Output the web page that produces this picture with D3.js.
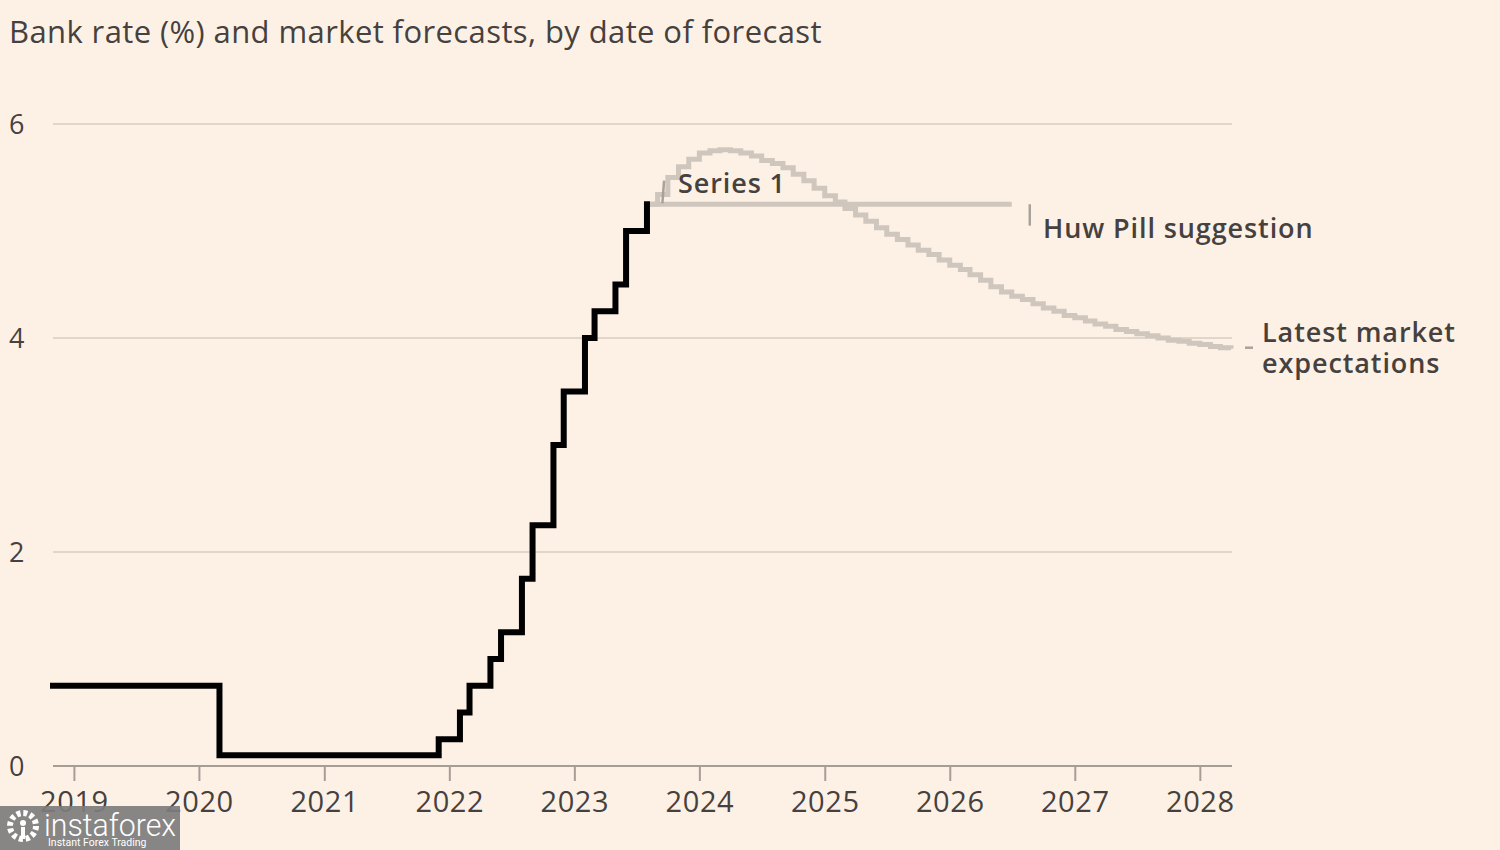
<!DOCTYPE html>
<html>
<head>
<meta charset="utf-8">
<script src="https://cdn.jsdelivr.net/npm/d3@7"></script>
<style>
  html, body { margin: 0; padding: 0; background: #fdf1e6; }
  svg { display: block; }
</style>
</head>
<body>
<svg id="chart" width="1500" height="850"></svg>
<script>
// ---------- DATA ----------
const titleText = "Bank rate (%) and market forecasts, by date of forecast";
const yTicks = [0, 2, 4, 6];
const xTickYears = [2019, 2020, 2021, 2022, 2023, 2024, 2025, 2026, 2027, 2028];

// Bank rate (monthly, change points; step after)
const bankRateDates = ["2018-11-01", "2020-03-01", "2021-12-01", "2022-02-01", "2022-03-01",
  "2022-05-01", "2022-06-01", "2022-08-01", "2022-09-01", "2022-11-01", "2022-12-01",
  "2023-02-01", "2023-03-01", "2023-05-01", "2023-06-01", "2023-08-01"];
const bankRateValues = [0.75, 0.1, 0.25, 0.5, 0.75, 1.0, 1.25, 1.75, 2.25, 3.0, 3.5,
  4.0, 4.25, 4.5, 5.0, 5.25];

// Latest market expectations, monthly from Aug 2023
const marketStart = "2023-08-01";
const marketValues = [5.25, 5.34, 5.50, 5.60, 5.67, 5.73, 5.75, 5.76, 5.75, 5.73,
  5.70, 5.66, 5.63, 5.59, 5.53, 5.47, 5.40, 5.33, 5.27, 5.21,
  5.15, 5.09, 5.03, 4.97, 4.92, 4.87, 4.82, 4.78, 4.73, 4.68,
  4.64, 4.59, 4.54, 4.48, 4.43, 4.39, 4.36, 4.32, 4.28, 4.25,
  4.21, 4.19, 4.16, 4.13, 4.11, 4.08, 4.06, 4.04, 4.02, 4.00,
  3.98, 3.97, 3.95, 3.94, 3.92, 3.91, 3.90];

// Huw Pill suggestion
const pillDates = ["2023-08-01", "2026-07-01"];
const pillValues = [5.25, 5.25];

// Labels
const seriesLabels = ["Series 1", "Huw Pill suggestion", "Latest market", "expectations"];

// ---------- CHART ----------
const svg = d3.select("#chart");
const W = 1500, H = 850;
const bg = "#fdf1e6";
const textColor = "#46413e";
const greyLine = "#cfc6bd";
const leaderColor = "#a9a29b";
const font = "'Open Sans', Lato, sans-serif";

svg.append("rect").attr("width", W).attr("height", H).attr("fill", bg);

const parse = d3.utcParse("%Y-%m-%d");
const x = d3.scaleUtc()
  .domain([parse("2018-11-01"), parse("2028-04-01")])
  .range([53, 1231]);
const y = d3.scaleLinear().domain([0, 6]).range([766, 124]);

// Title
svg.append("text")
  .attr("x", 9).attr("y", 43)
  .attr("font-family", font).attr("font-size", 31)
  .attr("letter-spacing", 0.4)
  .attr("fill", textColor)
  .text(titleText);

// Gridlines
svg.append("g")
  .selectAll("line")
  .data(yTicks.filter(d => d !== 0))
  .join("line")
  .attr("x1", 53).attr("x2", 1232)
  .attr("y1", d => y(d)).attr("y2", d => y(d))
  .attr("stroke", "#d6ccc2").attr("stroke-width", 1.5);

// Y tick labels
svg.append("g")
  .selectAll("text")
  .data(yTicks)
  .join("text")
  .attr("x", 9).attr("y", d => y(d))
  .attr("dy", "0.36em")
  .attr("font-family", font).attr("font-size", 27)
  .attr("fill", textColor)
  .text(d => d);

// X axis
const xAxis = d3.axisBottom(x)
  .tickValues(xTickYears.map(yr => new Date(Date.UTC(yr, 0, 1))))
  .tickFormat(d3.utcFormat("%Y"))
  .tickSize(15)
  .tickSizeOuter(0)
  .tickPadding(10);

const gx = svg.append("g").attr("transform", `translate(0,${y(0)})`).call(xAxis);
gx.select(".domain").attr("stroke", "#a69d95").attr("stroke-width", 2)
  .attr("d", `M53,0H1232`);
gx.selectAll(".tick line").attr("stroke", "#a69d95").attr("stroke-width", 2);
gx.selectAll(".tick text")
  .attr("font-family", font).attr("font-size", 29).attr("letter-spacing", 0.6)
  .attr("fill", textColor);

// Lines
const lineStep = d3.line()
  .x(d => x(d.date)).y(d => y(d.value))
  .curve(d3.curveStepAfter);

const marketData = marketValues.map((v, i) => ({
  date: d3.utcMonth.offset(parse(marketStart), i), value: v
}));
const pillData = pillDates.map((d, i) => ({ date: parse(d), value: pillValues[i] }));
const bankData = bankRateDates.map((d, i) => ({ date: parse(d), value: bankRateValues[i] }));

svg.append("path").datum(pillData)
  .attr("d", lineStep)
  .attr("fill", "none").attr("stroke", greyLine).attr("stroke-width", 5);

svg.append("path").datum(marketData)
  .attr("d", lineStep)
  .attr("fill", "none").attr("stroke", greyLine).attr("stroke-width", 5);

svg.append("path").datum(bankData)
  .attr("d", lineStep)
  .attr("fill", "none").attr("stroke", "#000").attr("stroke-width", 6)
  .attr("stroke-linejoin", "miter").attr("stroke-linecap", "square");

// Label leaders
const lastMarket = marketData[marketData.length - 1];
const leaders = [
  { x1: x(parse("2023-09-15")), y1: y(5.25) - 1, x2: x(parse("2023-09-20")), y2: y(5.47) },
  { x1: x(parse("2026-07-01")) + 18, y1: y(5.25), x2: x(parse("2026-07-01")) + 18, y2: y(5.05) },
  { x1: x(lastMarket.date) + 14, y1: y(3.9) - 1, x2: x(lastMarket.date) + 22, y2: y(3.9) - 1 }
];
svg.append("g").selectAll("line").data(leaders).join("line")
  .attr("x1", d => d.x1).attr("y1", d => d.y1)
  .attr("x2", d => d.x2).attr("y2", d => d.y2)
  .attr("stroke", leaderColor).attr("stroke-width", 2.5);

// Labels
const labelPos = [
  { t: seriesLabels[0], x: 678, y: 193 },
  { t: seriesLabels[1], x: 1043, y: 238 },
  { t: seriesLabels[2], x: 1262, y: 342 },
  { t: seriesLabels[3], x: 1262, y: 373 }
];
svg.append("g").selectAll("text").data(labelPos).join("text")
  .attr("x", d => d.x).attr("y", d => d.y)
  .attr("font-family", font).attr("font-size", 27).attr("font-weight", 600)
  .attr("letter-spacing", 0.9)
  .attr("fill", textColor)
  .text(d => d.t);

// Watermark
const wm = svg.append("g");
wm.append("rect").attr("x", 0).attr("y", 806).attr("width", 180).attr("height", 44)
  .attr("fill", "#7d7d7d").attr("opacity", 0.92);
wm.append("circle").attr("cx", 23).attr("cy", 826).attr("r", 13)
  .attr("fill", "none").attr("stroke", "#fff").attr("stroke-width", 6)
  .attr("stroke-dasharray", "4 2.8");
wm.append("circle").attr("cx", 23).attr("cy", 823).attr("r", 3).attr("fill", "#fff");
wm.append("rect").attr("x", 21).attr("y", 827).attr("width", 4).attr("height", 12).attr("fill", "#fff");
wm.append("text").attr("x", 44).attr("y", 836)
  .attr("font-family", "'Roboto', sans-serif").attr("font-size", 32).attr("font-weight", 300)
  .attr("fill", "#fff").attr("textLength", 132).attr("lengthAdjust", "spacingAndGlyphs")
  .text("instaforex");
wm.append("text").attr("x", 48).attr("y", 846)
  .attr("font-family", "'Roboto', sans-serif").attr("font-size", 10.5)
  .attr("fill", "#fff")
  .text("Instant Forex Trading");
</script>
</body>
</html>
